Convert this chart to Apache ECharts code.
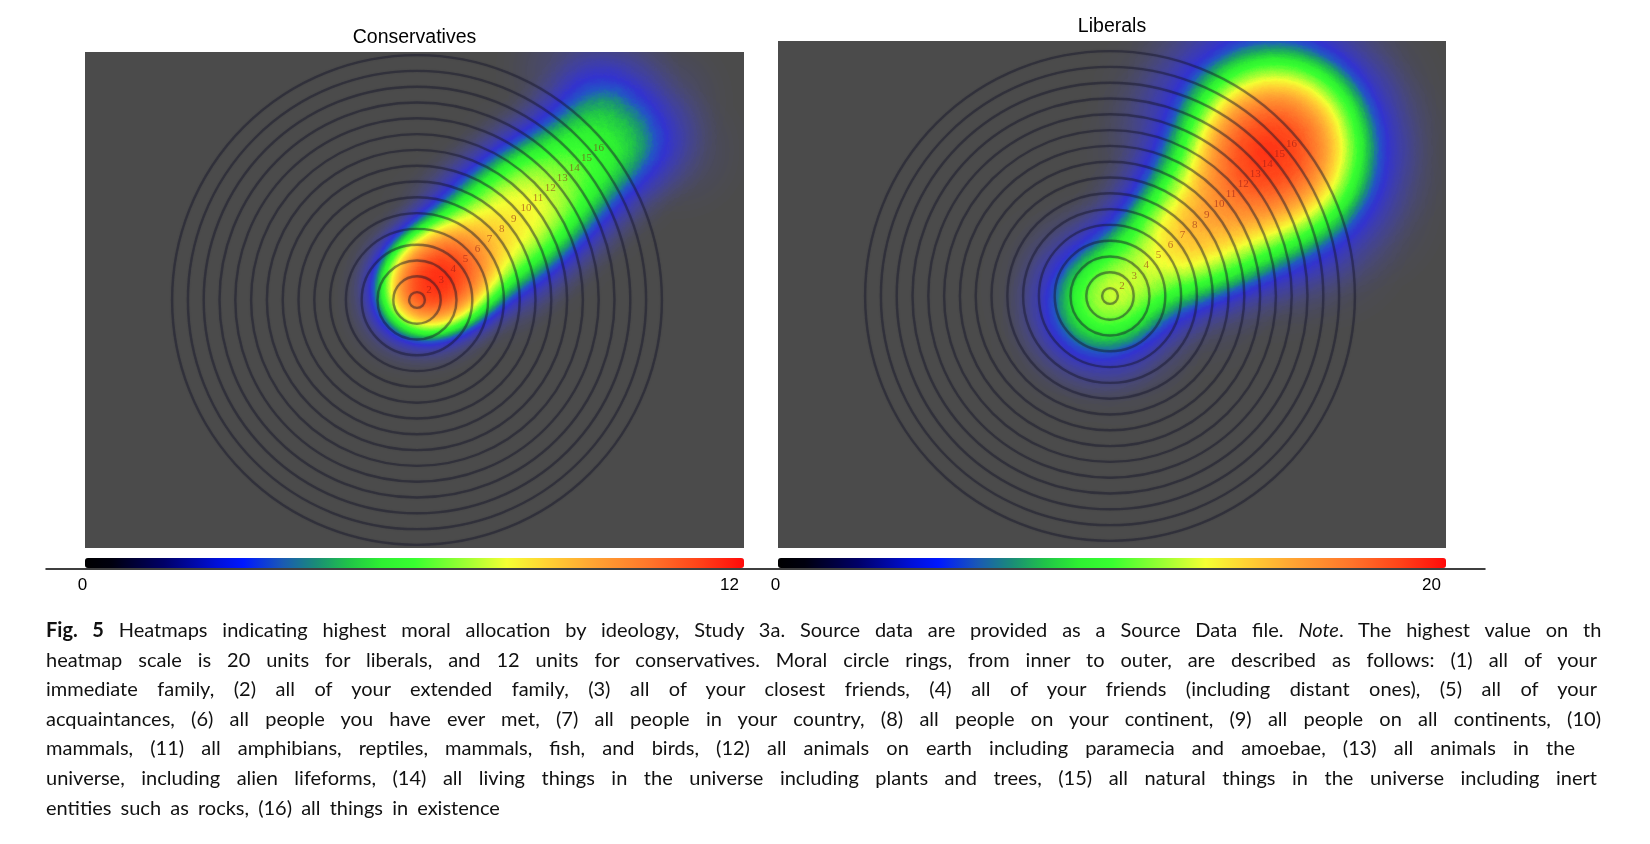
<!DOCTYPE html>
<html>
<head>
<meta charset="utf-8">
<script src="https://cdn.jsdelivr.net/npm/echarts@6/dist/echarts.min.js"></script>
<style>
  html, body { margin:0; padding:0; background:#fff; }
  #chart { position:absolute; left:0; top:0; width:1650px; height:844px; }
  #cap { position:absolute; left:46px; top:615px; width:1555px; overflow:hidden;
         font-family:'Lato','Noto Sans',sans-serif; font-size:20px; line-height:29.6px; color:#111; }
  #cap div { height:29.6px; white-space:nowrap; text-align:justify; text-align-last:justify; overflow:visible; }
  #cap div.last { text-align-last:left; word-spacing:4px; }
</style>
</head>
<body>
<div id="chart"></div>
<div id="cap"></div>
<script>
// ---------------- data ----------------
const panelTitles = ['Conservatives', 'Liberals'];
const scaleMax = [12, 20];                 // highest value on each heatmap scale
const ringNumbers = [1,2,3,4,5,6,7,8,9,10,11,12,13,14,15,16];
// highest-allocation hotspots, in ring units from the centre [x, y(up), value]
const conservativePoints = [
  // core (rings 1-4)
  [0.1, 0.3, 9], [0.7, 0.8, 12], [1.3, 1.3, 12], [2.0, 1.8, 10], [2.6, 2.3, 7],
  // ridge, upper edge
  [2.42, 4.12, 4.0], [3.57, 5.09, 4.7], [4.72, 6.05, 4.7], [5.86, 7.02, 4.6], [7.01, 7.98, 4.3],
  [8.16, 8.94, 3.4], [9.31, 9.91, 3.0], [10.46, 10.87, 2.9], [11.61, 11.84, 2.9], [12.76, 12.80, 1.8],
  // ridge, lower edge
  [4.48, 1.66, 4.0], [5.63, 2.63, 4.7], [6.78, 3.59, 4.7], [7.92, 4.56, 4.6], [9.07, 5.52, 4.3],
  [10.22, 6.48, 3.4], [11.37, 7.45, 3.0], [12.52, 8.41, 2.9], [13.67, 9.38, 2.9], [14.82, 10.34, 1.8],
  // faint outer halo
  [9.5, 14.5, 1.5], [12.5, 14.5, 1.5], [15.5, 12.5, 1.5], [16.5, 9.5, 1.2]
];
const liberalPoints = [
  // centre
  [0.0, 0.0, 18], [-1.2, -1.0, 4], [-2.2, 0.5, 3], [0.6, -2.2, 3], [-1.6, -2.0, 3],
  // ridge
  [2.23, 2.01, 7], [3.34, 3.01, 9], [4.46, 4.01, 11], [5.57, 5.02, 11], [6.69, 6.02, 11], [7.80, 7.03, 10],
  // lower flank of the ridge
  [5.01, 1.15, 4], [6.13, 2.15, 4], [7.24, 3.16, 4], [8.36, 4.16, 4], [9.47, 5.17, 4],
  // hotspot (rings 13-15)
  [10.0, 9.2, 18], [10.8, 9.7, 16], [9.3, 8.6, 16], [10.5, 8.5, 14], [9.6, 10.0, 14], [11.3, 8.9, 12], [10.6, 10.4, 12],
  // spread around the hotspot
  [15.5, 9.2, 8], [14.76, 11.95, 8], [12.75, 13.96, 8], [10.0, 14.7, 8], [7.25, 13.96, 7],
  [5.24, 11.95, 6], [4.5, 9.2, 6], [10.0, 3.7, 8], [12.75, 4.44, 8], [14.76, 6.45, 8]
];
const colorbarTicks = [[0, 12], [0, 20]];
const captionLines = [
  '<b>Fig. 5</b> Heatmaps indicating highest moral allocation by ideology, Study 3a. Source data are provided as a Source Data file. <i>Note</i>. The highest value on the',
  'heatmap scale is 20 units for liberals, and 12 units for conservatives. Moral circle rings, from inner to outer, are described as follows: (1) all of your',
  'immediate family, (2) all of your extended family, (3) all of your closest friends, (4) all of your friends (including distant ones), (5) all of your',
  'acquaintances, (6) all people you have ever met, (7) all people in your country, (8) all people on your continent, (9) all people on all continents, (10)',
  'mammals, (11) all amphibians, reptiles, mammals, fish, and birds, (12) all animals on earth including paramecia and amoebae, (13) all animals in the',
  'universe, including alien lifeforms, (14) all living things in the universe including plants and trees, (15) all natural things in the universe including inert',
  'entities such as rocks, (16) all things in existence'
];

// ---------------- styling / layout ----------------
const lineWidths = [1566, 1551, 1551, 1555, 1529, 1551, null];
const S = 15.8; // ring spacing in px
const panels = [
  {x0:85, x1:744, y0:52, y1:548, cx:417, cy:300, titleTop:28, pointSize:34, blurSize:50},
  {x0:778, x1:1446, y0:41, y1:548, cx:1110, cy:296, titleTop:17, pointSize:40, blurSize:70}
];
const barStops = [[0,'#000000'],[0.04,'#00000e'],[0.12,'#000068'],[0.2,'#0010d8'],[0.24,'#0018ff'],
  [0.3,'#1a5ab4'],[0.35,'#1a8c78'],[0.4,'#20c448'],[0.45,'#2ef032'],[0.5,'#38ff30'],[0.58,'#a0ff33'],
  [0.64,'#f4ff33'],[0.7,'#ffd233'],[0.77,'#ffa533'],[0.86,'#ff732a'],[0.93,'#ff4419'],[1,'#ff0a0a']];
const heatStops = [[0,'#4848ff'],[0.24,'#2a2aff'],
  [0.3,'#1f55d0'],[0.35,'#1a9078'],[0.4,'#20c448'],[0.45,'#2ef032'],[0.5,'#38ff30'],[0.58,'#a0ff33'],
  [0.64,'#f4ff33'],[0.7,'#ffd233'],[0.77,'#ffa533'],[0.86,'#ff732a'],[0.93,'#ff4419'],[1,'#ff0a0a']];

function hex(c){ return [parseInt(c.slice(1,3),16),parseInt(c.slice(3,5),16),parseInt(c.slice(5,7),16)]; }
function sample(stops, n){
  const out=[];
  for(let i=0;i<n;i++){
    const t=i/(n-1); let k=0;
    while(k<stops.length-2 && stops[k+1][0]<t) k++;
    const a=stops[k], b=stops[k+1]; const f=(t-a[0])/(b[0]-a[0]);
    const ca=hex(a[1]), cb=hex(b[1]);
    out.push('rgb('+ca.map((v,j)=>Math.round(v+(cb[j]-v)*f)).join(',')+')');
  }
  return out;
}
const barColors = sample(barStops, 101);
const heatColors = sample(heatStops, 101);

function rectMap(p){
  const x0=(p.x0-p.cx)/S, x1=(p.x1-p.cx)/S, y0=(p.cy-p.y1)/S, y1=(p.cy-p.y0)/S;
  return {type:'FeatureCollection', features:[{type:'Feature', properties:{name:'panel'},
    geometry:{type:'Polygon', coordinates:[[[x0,y0],[x1,y0],[x1,y1],[x0,y1],[x0,y0]]]}}]};
}
echarts.registerMap('panel0', rectMap(panels[0]));
echarts.registerMap('panel1', rectMap(panels[1]));

const chart = echarts.init(document.getElementById('chart'));
const pointSets = [conservativePoints, liberalPoints];
const labelAngle = 40;
const ringColor = 'rgba(22,22,42,0.42)';

const option = {
  animation:false,
  title: panels.map((p,i)=>({text:panelTitles[i], left:(p.x0+p.x1)/2, top:p.titleTop, textAlign:'center', padding:0,
    textStyle:{fontFamily:'Liberation Sans', fontWeight:'normal', fontSize:19.5, color:'#000'}})),
  geo: panels.map((p,i)=>({map:'panel'+i, left:p.x0, top:p.y0, width:p.x1-p.x0, height:p.y1-p.y0,
    aspectScale:1, roam:false, silent:true, label:{show:false},
    itemStyle:{areaColor:'#4b4b4b', borderWidth:0}, emphasis:{disabled:true}, select:{disabled:true}})),
  polar: panels.map(p=>({center:[p.cx,p.cy], radius:[S*0.5, S*15.5]})),
  angleAxis: panels.map((p,i)=>({polarIndex:i, type:'value', min:0, max:360, startAngle:0, clockwise:false, show:false})),
  radiusAxis: panels.map((p,i)=>({polarIndex:i, type:'value', min:1, max:16, interval:1, z:5,
    axisLine:{show:false}, axisTick:{show:false}, axisLabel:{show:false},
    splitLine:{show:true, lineStyle:{color:ringColor, width:2.4, shadowBlur:2, shadowColor:'rgba(22,22,42,0.35)'}}})),
  grid: [
    {left:panels[0].x0, width:panels[0].x1-panels[0].x0, top:558, height:11},
    {left:panels[1].x0, width:panels[1].x1-panels[1].x0, top:558, height:11},
    {left:46, width:1439, top:560, height:9}
  ],
  xAxis: [0,1].map(i=>({gridIndex:i, type:'value', min:colorbarTicks[i][0], max:colorbarTicks[i][1],
    interval:colorbarTicks[i][1], axisLine:{show:false}, axisTick:{show:false}, splitLine:{show:false},
    axisLabel:{show:true, fontSize:17, color:'#000', fontFamily:'Liberation Sans', margin:8,
      alignMaxLabel:'right', padding:[0,5,0,0]}})).concat([
    {gridIndex:2, type:'value', min:0, max:1, axisLine:{show:true, onZero:false, lineStyle:{color:'#000', width:1.5}},
     axisTick:{show:false}, axisLabel:{show:false}, splitLine:{show:false}}]),
  yAxis: [0,1,2].map(i=>({gridIndex:i, type:'value', show:false, min:0, max:1})),
  visualMap: [
    {type:'continuous', min:0, max:scaleMax[0], orient:'horizontal', left:panels[0].x0, top:558, itemWidth:10,
     itemHeight:panels[0].x1-panels[0].x0, padding:0, calculable:false, hoverLink:false, seriesIndex:[], inRange:{color:barColors}},
    {type:'continuous', min:0, max:scaleMax[1], orient:'horizontal', left:panels[1].x0, top:558, itemWidth:10,
     itemHeight:panels[1].x1-panels[1].x0, padding:0, calculable:false, hoverLink:false, seriesIndex:[], inRange:{color:barColors}},
    {type:'continuous', show:false, min:0, max:scaleMax[0], dimension:2, seriesIndex:[0], inRange:{color:heatColors}},
    {type:'continuous', show:false, min:0, max:scaleMax[1], dimension:2, seriesIndex:[1], inRange:{color:heatColors}}
  ],
  series: [
    ...pointSets.map((pts,i)=>({type:'heatmap', coordinateSystem:'geo', geoIndex:i, data:pts,
      pointSize:panels[i].pointSize, blurSize:panels[i].blurSize, minOpacity:0, maxOpacity:3, z:2, silent:true})),
    ...panels.map((p,i)=>({type:'scatter', coordinateSystem:'polar', polarIndex:i, z:6, silent:true,
      symbolSize:1, itemStyle:{color:'rgba(0,0,0,0)'},
      data: ringNumbers.map(k=>({name:String(k), value:[k-0.5, labelAngle]})),
      label:{show:true, position:'inside', formatter:'{b}', fontSize:11, fontFamily:'Liberation Serif',
        color:'rgba(140,22,22,0.72)'}}))
  ]
};
chart.setOption(option);

const cap = document.getElementById('cap');
captionLines.forEach((t,i)=>{
  const d=document.createElement('div');
  d.innerHTML=t;
  if(lineWidths[i]) d.style.width=lineWidths[i]+'px'; else d.className='last';
  cap.appendChild(d);
});
</script>
</body>
</html>
